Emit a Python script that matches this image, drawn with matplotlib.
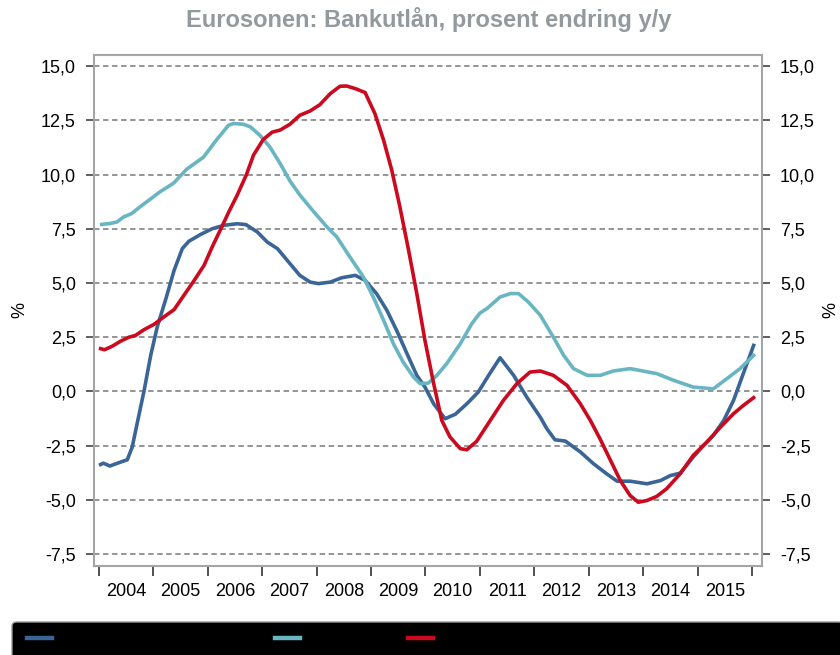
import numpy as np
import matplotlib.pyplot as plt
from matplotlib.ticker import FuncFormatter, MultipleLocator
from matplotlib.patches import FancyBboxPatch
from matplotlib.lines import Line2D

plt.rcParams['font.family'] = ['Liberation Sans', 'DejaVu Sans']

# data (decimal year, % y/y) --------------------------------------------------

blue_t = [2004.03, 2004.08, 2004.20, 2004.34, 2004.52, 2004.61, 2004.70, 2004.83,
          2004.95, 2005.07, 2005.23, 2005.38, 2005.53, 2005.65, 2005.87, 2006.08,
          2006.30, 2006.54, 2006.70, 2006.91, 2007.09, 2007.28, 2007.51, 2007.69,
          2007.88, 2008.03, 2008.25, 2008.46, 2008.71, 2008.89, 2009.10, 2009.29,
          2009.47, 2009.66, 2009.84, 2009.99, 2010.15, 2010.36, 2010.55, 2010.76,
          2010.97, 2011.16, 2011.37, 2011.62, 2011.86, 2012.11, 2012.23, 2012.38,
          2012.57, 2012.85, 2013.09, 2013.33, 2013.52, 2013.76, 2014.07, 2014.32,
          2014.50, 2014.68, 2014.92, 2015.11, 2015.29, 2015.48, 2015.66, 2015.84,
          2016.03]
blue_v = [-3.37, -3.31, -3.44, -3.31, -3.15, -2.57, -1.49, 0.05,
          1.66, 2.97, 4.28, 5.58, 6.58, 6.92, 7.24, 7.50,
          7.66, 7.73, 7.69, 7.35, 6.89, 6.58, 5.89, 5.35,
          5.04, 4.97, 5.04, 5.24, 5.35, 5.12, 4.51, 3.74,
          2.81, 1.74, 0.74, 0.20, -0.57, -1.26, -1.05, -0.57,
          -0.03, 0.74, 1.55, 0.74, -0.26, -1.19, -1.72, -2.23,
          -2.29, -2.80, -3.34, -3.80, -4.14, -4.14, -4.26, -4.11,
          -3.88, -3.77, -3.03, -2.49, -2.03, -1.34, -0.42, 0.82,
          2.12]

teal_t = [2004.05, 2004.20, 2004.33, 2004.45, 2004.60, 2004.75, 2004.94, 2005.12,
          2005.37, 2005.61, 2005.92, 2006.16, 2006.38, 2006.47, 2006.65, 2006.78,
          2006.96, 2007.14, 2007.33, 2007.51, 2007.69, 2007.94, 2008.19, 2008.37,
          2008.61, 2008.86, 2009.04, 2009.23, 2009.41, 2009.59, 2009.78, 2009.90,
          2010.05, 2010.21, 2010.39, 2010.64, 2010.85, 2011.00, 2011.13, 2011.37,
          2011.56, 2011.71, 2011.89, 2012.11, 2012.35, 2012.54, 2012.72, 2012.97,
          2013.21, 2013.45, 2013.76, 2014.25, 2014.56, 2014.92, 2015.29, 2015.54,
          2015.78, 2016.03]
teal_v = [7.70, 7.74, 7.81, 8.04, 8.20, 8.50, 8.86, 9.20,
          9.60, 10.24, 10.80, 11.60, 12.27, 12.35, 12.32, 12.20,
          11.80, 11.27, 10.50, 9.70, 9.06, 8.30, 7.58, 7.12,
          6.20, 5.27, 4.35, 3.28, 2.20, 1.35, 0.66, 0.36,
          0.38, 0.74, 1.28, 2.20, 3.12, 3.61, 3.82, 4.35,
          4.51, 4.51, 4.12, 3.51, 2.50, 1.66, 1.05, 0.74,
          0.74, 0.94, 1.05, 0.82, 0.51, 0.20, 0.12, 0.59,
          1.05, 1.66]

red_t = [2004.03, 2004.10, 2004.24, 2004.40, 2004.55, 2004.67, 2004.83, 2005.01,
         2005.19, 2005.38, 2005.56, 2005.75, 2005.93, 2006.08, 2006.24, 2006.39,
         2006.54, 2006.71, 2006.84, 2007.02, 2007.18, 2007.33, 2007.51, 2007.69,
         2007.88, 2008.06, 2008.25, 2008.43, 2008.55, 2008.71, 2008.89, 2009.07,
         2009.23, 2009.38, 2009.53, 2009.69, 2009.84, 2009.99, 2010.15, 2010.30,
         2010.45, 2010.64, 2010.76, 2010.94, 2011.19, 2011.43, 2011.68, 2011.92,
         2012.11, 2012.35, 2012.60, 2012.84, 2013.03, 2013.21, 2013.40, 2013.58,
         2013.76, 2013.91, 2014.07, 2014.25, 2014.43, 2014.68, 2014.92, 2015.17,
         2015.42, 2015.66, 2015.84, 2016.03]
red_v = [1.97, 1.92, 2.08, 2.32, 2.50, 2.58, 2.85, 3.09,
         3.43, 3.77, 4.43, 5.12, 5.81, 6.66, 7.50, 8.30,
         9.05, 10.00, 10.90, 11.62, 11.95, 12.05, 12.32, 12.73,
         12.93, 13.22, 13.73, 14.07, 14.08, 13.96, 13.78, 12.81,
         11.58, 10.20, 8.50, 6.50, 4.51, 2.35, 0.36, -1.34,
         -2.10, -2.64, -2.69, -2.30, -1.34, -0.42, 0.36, 0.89,
         0.94, 0.74, 0.28, -0.55, -1.34, -2.20, -3.18, -4.11,
         -4.80, -5.11, -5.03, -4.84, -4.49, -3.80, -2.95, -2.34,
         -1.65, -1.03, -0.65, -0.29]

years = list(range(2004, 2016))
title = 'Eurosonen: Bankutlån, prosent endring y/y'

c_blue = '#3a6596'
c_teal = '#6ab5c2'
c_red = '#cc0a1f'

#figure and axes -----------------------------------------------------------------------

fig = plt.figure(figsize=(8.4, 6.55), dpi=100)
ax = fig.add_axes([94/840, 1 - 566/655, (762 - 94)/840, (566 - 55)/655])

ax.plot(blue_t, blue_v, color=c_blue, lw=2.6, solid_joinstyle='round', zorder=3)
ax.plot(teal_t, teal_v, color=c_teal, lw=2.6, solid_joinstyle='round', zorder=3)
ax.plot(red_t, red_v, color=c_red, lw=2.6, solid_joinstyle='round', zorder=3)

ax.set_xlim(2003.908, 2016.184)
ax.set_ylim(-8.05, 15.51)

#grid, spines, ticks ----------------------------------------------------------------------

ax.yaxis.set_major_locator(MultipleLocator(2.5))
ax.yaxis.set_major_formatter(FuncFormatter(lambda v, p: f'{v:.1f}'.replace('.', ',')))
ax.yaxis.grid(True, linestyle=(0, (3, 2)), color='#8c8c8c', lw=1.3)
ax.set_axisbelow(True)
for s in ax.spines.values():
    s.set_color('#a3a6a9')
    s.set_linewidth(1.5)

ax.tick_params(axis='y', direction='out', length=6, width=1.2, color='#444444',
               labelsize=13, pad=7, left=True, right=True, labelleft=True, labelright=True)

ax.set_xticks(np.arange(2004, 2017))
ax.set_xticklabels([])
ax.set_xticks([y + 0.5 for y in years], minor=True)
ax.set_xticklabels([str(y) for y in years], minor=True)
ax.tick_params(axis='x', which='major', direction='out', length=7, width=1.2, color='#333333')
ax.tick_params(axis='x', which='minor', length=0, labelsize=13, pad=12)

#titles and % labels ----------------------------------------------------------------------

fig.text(429/840, 1 - 20/655, title, ha='center', va='center', fontsize=17,
         fontweight='bold', color='#939a9e')
fig.text(20/840, 1 - 310/655, '%', rotation=90, ha='center', va='center', fontsize=13)
fig.text(831/840, 1 - 310/655, '%', rotation=90, ha='center', va='center', fontsize=13)

#black legend bar -------------------------------------------------------------------------

box = FancyBboxPatch((12/840, -0.02), 0.99, (655 - 622)/655 + 0.02,
                     boxstyle='round,pad=0,rounding_size=0.006', transform=fig.transFigure,
                     facecolor='black', edgecolor='#9a9a9a', lw=1.0)
fig.patches.append(box)
for x0, col in [(27, c_blue), (275, c_teal), (408, c_red)]:
    fig.lines.append(Line2D([x0/840, (x0 + 25)/840], [1 - 638/655] * 2,
                            transform=fig.transFigure, color=col, lw=3.2))

fig.savefig('out.png', dpi=100)
